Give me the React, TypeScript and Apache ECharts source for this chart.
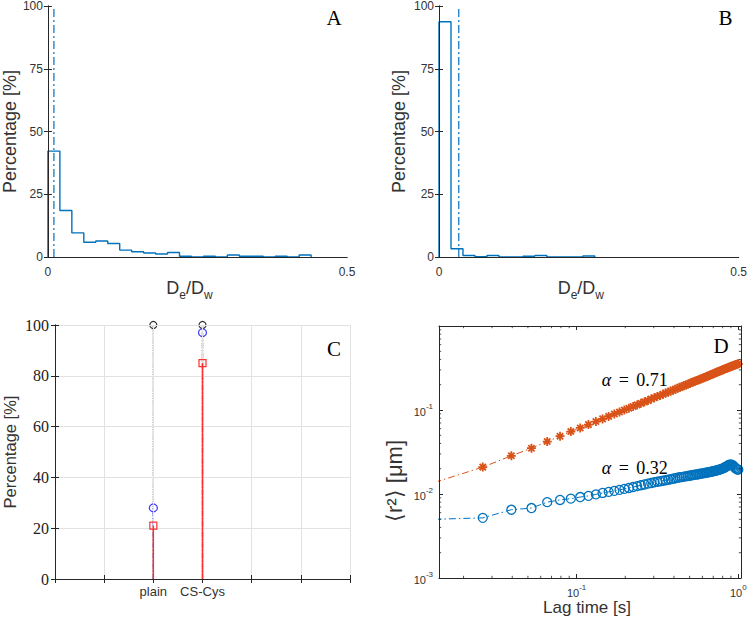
import React, { useEffect, useRef } from 'react';
import * as echarts from 'echarts';

// ---------- Data ----------
// Panels A and B: histograms (stairs) of De/Dw, bin width 0.02, percentages per bin
const HIST_BIN_WIDTH = 0.02;
const HIST_A_PERCENT = [42.2, 18.5, 9.6, 5.9, 6.4, 5.4, 2.75, 2.1, 1.6, 1.2, 1.8, 0.3, 0, 0.3, 0, 0.8, 0.3, 0.3, 0, 0.3, 0, 0.8];
const HIST_B_PERCENT = [93.7, 3.3, 0.6, 0.1, 0.6, 0, 0, 0.3, 0.6, 0, 0, 0, 0.4];
const HIST_A_MARKER = 0.01;
const HIST_B_MARKER = 0.033;
const HIST_X_RANGE = [0, 0.5];
const HIST_Y_RANGE = [0, 100];

// Panel C: stems
const C_GROUPS = ['plain', 'CS-Cys'];
const C_GROUP_X = [2, 3];
const C_X_RANGE = [0, 6];
const C_TOTAL = [100, 100];
const C_BLUE = [28, 97];
const C_RED = [21, 85];

// Panel D: MSD vs lag time
const D_LAG = [
  0.0132, 0.0263, 0.0395, 0.0526, 0.0658, 0.0790, 0.0921, 0.1053, 0.1184, 0.1316,
  0.1448, 0.1579, 0.1711, 0.1842, 0.1974, 0.2106, 0.2237, 0.2369, 0.2500, 0.2632,
  0.2764, 0.2895, 0.3027, 0.3158, 0.3290, 0.3422, 0.3553, 0.3685, 0.3816, 0.3948,
  0.4080, 0.4211, 0.4343, 0.4474, 0.4606, 0.4738, 0.4869, 0.5001, 0.5132, 0.5264,
  0.5396, 0.5527, 0.5659, 0.5790, 0.5922, 0.6054, 0.6185, 0.6317, 0.6448, 0.6580,
  0.6712, 0.6843, 0.6975, 0.7106, 0.7238, 0.7370, 0.7501, 0.7633, 0.7764, 0.7896,
  0.8028, 0.8159, 0.8291, 0.8422, 0.8554, 0.8686, 0.8817, 0.8949, 0.9080, 0.9212,
  0.9344, 0.9475, 0.9607, 0.9738, 0.9870, 1.0002,
];
const D_ORANGE = [
  0.0137, 0.0209, 0.0285, 0.0351, 0.0421, 0.0488, 0.0554, 0.0612, 0.0670, 0.0728,
  0.0784, 0.0839, 0.0894, 0.0947, 0.100, 0.105, 0.110, 0.115, 0.120, 0.125,
  0.130, 0.135, 0.140, 0.145, 0.149, 0.154, 0.159, 0.163, 0.168, 0.172,
  0.177, 0.181, 0.186, 0.190, 0.195, 0.199, 0.203, 0.207, 0.212, 0.216,
  0.220, 0.224, 0.228, 0.232, 0.236, 0.240, 0.244, 0.248, 0.252, 0.257,
  0.261, 0.265, 0.269, 0.274, 0.278, 0.282, 0.286, 0.290, 0.293, 0.297,
  0.301, 0.305, 0.309, 0.312, 0.316, 0.320, 0.324, 0.327, 0.331, 0.335,
  0.338, 0.342, 0.345, 0.349, 0.352, 0.355,
];
const D_BLUE = [
  0.0050, 0.0052, 0.0065, 0.0068, 0.0080, 0.0085, 0.0088, 0.0092, 0.0095, 0.0099,
  0.0103, 0.0106, 0.0109, 0.0112, 0.0115, 0.0118, 0.0121, 0.0124, 0.0127, 0.0130,
  0.0133, 0.0135, 0.0138, 0.0140, 0.0142, 0.0144, 0.0146, 0.0148, 0.0150, 0.0152,
  0.0154, 0.0156, 0.0158, 0.0159, 0.0161, 0.0162, 0.0164, 0.0165, 0.0167, 0.0168,
  0.0170, 0.0171, 0.0172, 0.0174, 0.0175, 0.0176, 0.0178, 0.0179, 0.0180, 0.0182,
  0.0183, 0.0185, 0.0186, 0.0188, 0.0189, 0.0191, 0.0193, 0.0195, 0.0197, 0.0199,
  0.0202, 0.0205, 0.0208, 0.0212, 0.0216, 0.0220, 0.0223, 0.0224, 0.0223, 0.0220,
  0.0215, 0.0209, 0.0203, 0.0199, 0.0196, 0.0195,
];
const D_ALPHA_LABELS = ['0.71', '0.32'];
const D_Y_NAME = '⟨r²⟩ [μm]';
const D_X_RANGE = [0.0141, 1.039];
const D_Y_RANGE = [0.001, 1];
const D_X_LABEL_EXP = [-1, 0];
const D_Y_LABEL_EXP = [-3, -2, -1];
const D_MINOR_X = [0.02, 0.03, 0.04, 0.05, 0.06, 0.07, 0.08, 0.09, 0.2, 0.3, 0.4, 0.5, 0.6, 0.7, 0.8, 0.9];
const D_MINOR_Y = [0.002, 0.003, 0.004, 0.005, 0.006, 0.007, 0.008, 0.009, 0.02, 0.03, 0.04, 0.05, 0.06, 0.07, 0.08, 0.09, 0.2, 0.3, 0.4, 0.5, 0.6, 0.7, 0.8, 0.9];

// ---------- Styles ----------
const SANS = '"Liberation Sans", Arial, Helvetica, sans-serif';
const SERIF = '"Liberation Serif", "Times New Roman", serif';
const AXIS = '#262626';
const TXT = '#333333';
const MBLUE = '#0072BD';
const MORANGE = '#D95319';
const DASHDOT = [7, 3, 1.5, 3];

function stairs(h: number[]) {
  const pts: number[][] = [[0, 0]];
  h.forEach((v, i) => pts.push([+(i * HIST_BIN_WIDTH).toFixed(4), v]));
  pts.push([+(h.length * HIST_BIN_WIDTH).toFixed(4), 0]);
  return pts;
}

const axisLineStyle = { show: true, lineStyle: { color: AXIS, width: 1 } };

function histAxes(grid: number, yNameGap: number) {
  const subRich = {
    d: { fontSize: 18, fontFamily: SANS, color: TXT, verticalAlign: 'bottom', padding: [0, 0, 4, 0] },
    s: { fontSize: 12, fontFamily: SANS, color: TXT, verticalAlign: 'bottom' },
  };
  const x = [
    {
      gridIndex: grid, type: 'value', min: HIST_X_RANGE[0], max: HIST_X_RANGE[1], interval: 0.5, position: 'bottom', z: 5,
      axisLine: axisLineStyle, axisTick: { show: false }, splitLine: { show: false },
      axisLabel: { fontSize: 12, fontFamily: SANS, color: TXT, margin: 9 },
      name: '{d|D}{s|e}{d|/D}{s|w}', nameLocation: 'middle', nameGap: 14,
      nameTextStyle: { rich: subRich, padding: [0, 16, 0, 0] },
    },
    {
      gridIndex: grid, type: 'value', min: HIST_X_RANGE[0], max: HIST_X_RANGE[1], interval: 0.5, position: 'top', z: 5,
      axisLine: axisLineStyle, axisTick: { show: false }, axisLabel: { show: false }, splitLine: { show: false },
    },
  ];
  const y = [
    {
      gridIndex: grid, type: 'value', min: HIST_Y_RANGE[0], max: HIST_Y_RANGE[1], interval: 25, position: 'left', z: 5,
      axisLine: axisLineStyle, axisTick: { inside: true, length: 4, lineStyle: { color: AXIS } }, splitLine: { show: false },
      axisLabel: { fontSize: 12, fontFamily: SANS, color: TXT, margin: 5 },
      name: 'Percentage [%]', nameLocation: 'middle', nameGap: yNameGap,
      nameTextStyle: { fontSize: 18, fontFamily: SANS, color: TXT },
    },
    {
      gridIndex: grid, type: 'value', min: HIST_Y_RANGE[0], max: HIST_Y_RANGE[1], interval: 25, position: 'right', z: 5,
      axisLine: axisLineStyle, axisTick: { inside: true, length: 4, lineStyle: { color: AXIS } }, splitLine: { show: false },
      axisLabel: { show: false },
    },
  ];
  return { x, y };
}

function logLabel(allowed: number[]) {
  return (v: number) => {
    const l = Math.log10(v);
    const e = Math.round(l);
    if (Math.abs(l - e) > 1e-6 || allowed.indexOf(e) < 0) return '';
    return `{b|10}{s|${e}}`;
  };
}
const logRich = {
  b: { fontSize: 11, fontFamily: SANS, color: TXT, verticalAlign: 'bottom', padding: [4, 0, 0, 0] },
  s: { fontSize: 8, fontFamily: SANS, color: TXT, verticalAlign: 'top' },
};

function buildOption() {
  const a = histAxes(0, 25);
  const b = histAxes(1, 31);

  const cGrid = { show: true, lineStyle: { color: '#e2e2e2', width: 1 } };
  const cX = [
    {
      gridIndex: 2, type: 'value', min: C_X_RANGE[0], max: C_X_RANGE[1], interval: 1, position: 'bottom', z: 5,
      axisLine: axisLineStyle, axisTick: { inside: true, length: 4, lineStyle: { color: AXIS } }, splitLine: cGrid,
      axisLabel: {
        fontSize: 13, fontFamily: SANS, color: TXT, margin: 6,
        formatter: (v: number) => { const i = C_GROUP_X.indexOf(v); return i >= 0 ? C_GROUPS[i] : ''; },
      },
    },
    {
      gridIndex: 2, type: 'value', min: C_X_RANGE[0], max: C_X_RANGE[1], interval: 1, position: 'top', z: 5,
      axisLine: axisLineStyle, axisTick: { inside: true, length: 4, lineStyle: { color: AXIS } }, splitLine: { show: false },
      axisLabel: { show: false },
    },
  ];
  const cY = [
    {
      gridIndex: 2, type: 'value', min: 0, max: 100, interval: 20, position: 'left', z: 5,
      axisLine: axisLineStyle, axisTick: { inside: true, length: 4, lineStyle: { color: AXIS } }, splitLine: cGrid,
      axisLabel: { fontSize: 16, fontFamily: SERIF, color: '#222', margin: 6 },
      name: 'Percentage [%]', nameLocation: 'middle', nameGap: 37,
      nameTextStyle: { fontSize: 16.5, fontFamily: SANS, color: TXT },
    },
    {
      gridIndex: 2, type: 'value', min: 0, max: 100, interval: 20, position: 'right', z: 5,
      axisLine: axisLineStyle, axisTick: { inside: true, length: 4, lineStyle: { color: AXIS } }, splitLine: { show: false },
      axisLabel: { show: false },
    },
  ];

  const dX = [
    {
      gridIndex: 3, type: 'log', min: D_X_RANGE[0], max: D_X_RANGE[1], position: 'bottom', z: 5,
      axisLine: axisLineStyle, axisTick: { inside: true, length: 4, lineStyle: { color: AXIS } }, splitLine: { show: false },
      axisLabel: { formatter: logLabel(D_X_LABEL_EXP), rich: logRich, margin: 5 },
      name: 'Lag time [s]', nameLocation: 'middle', nameGap: 19,
      nameTextStyle: { fontSize: 17, fontFamily: SANS, color: TXT, padding: [0, 6, 0, 0] },
    },
    {
      gridIndex: 3, type: 'log', min: D_X_RANGE[0], max: D_X_RANGE[1], position: 'top', z: 5,
      axisLine: axisLineStyle, axisTick: { inside: true, length: 4, lineStyle: { color: AXIS } }, splitLine: { show: false },
      axisLabel: { show: false },
    },
  ];
  const dY = [
    {
      gridIndex: 3, type: 'log', min: D_Y_RANGE[0], max: D_Y_RANGE[1], position: 'left', z: 5,
      axisLine: axisLineStyle, axisTick: { inside: true, length: 4, lineStyle: { color: AXIS } }, splitLine: { show: false },
      axisLabel: { formatter: logLabel(D_Y_LABEL_EXP), rich: logRich, margin: 6 },
    },
    {
      gridIndex: 3, type: 'log', min: D_Y_RANGE[0], max: D_Y_RANGE[1], position: 'right', z: 5,
      axisLine: axisLineStyle, axisTick: { inside: true, length: 4, lineStyle: { color: AXIS } }, splitLine: { show: false },
      axisLabel: { show: false },
    },
  ];

  const series: any[] = [];
  // Panel A & B histograms
  [[HIST_A_PERCENT, HIST_A_MARKER, 0], [HIST_B_PERCENT, HIST_B_MARKER, 2]].forEach(([h, m, ax]: any) => {
    series.push({
      type: 'line', xAxisIndex: ax, yAxisIndex: ax, data: stairs(h), step: 'end', symbol: 'none',
      lineStyle: { color: MBLUE, width: 1.4 }, z: 3,
    });
    series.push({
      type: 'line', xAxisIndex: ax, yAxisIndex: ax, data: [[m, HIST_Y_RANGE[0]], [m, HIST_Y_RANGE[1]]], symbol: 'none',
      lineStyle: { color: MBLUE, width: 1.2, type: [8, 3, 2, 3] }, z: 3,
    });
  });

  // Panel C stems
  const stemDefs = [
    { vals: C_TOTAL, color: '#333333', line: 'dotted', lw: 1.2, symbol: 'circle', size: 7, z: 3 },
    { vals: C_BLUE, color: '#3a3aff', line: [5, 2, 1.5, 2], lw: 1.3, symbol: 'circle', size: 8, z: 4 },
    { vals: C_RED, color: '#ff3030', line: 'solid', lw: 1.5, symbol: 'rect', size: 7, z: 5 },
  ];
  stemDefs.forEach((d) => {
    d.vals.forEach((v, i) => {
      series.push({
        type: 'line', xAxisIndex: 4, yAxisIndex: 4, z: d.z,
        data: [{ value: [C_GROUP_X[i], 0], symbol: 'none' }, { value: [C_GROUP_X[i], v] }],
        symbol: d.symbol, symbolSize: d.size,
        itemStyle: { color: 'rgba(0,0,0,0)', borderColor: d.color, borderWidth: 1.2 },
        lineStyle: { color: d.color, width: d.lw, type: d.line },
      });
    });
  });

  // Panel D
  series.push({
    type: 'line', xAxisIndex: 6, yAxisIndex: 6, z: 3,
    data: D_LAG.map((t, i) => [t, D_ORANGE[i]]),
    symbol: 'path://M5 0 L5 10 M0 5 L10 5 M1.5 1.5 L8.5 8.5 M1.5 8.5 L8.5 1.5', symbolSize: 9,
    showAllSymbol: true,
    itemStyle: { color: 'rgba(0,0,0,0)', borderColor: MORANGE, borderWidth: 1.8 },
    lineStyle: { color: MORANGE, width: 1, type: DASHDOT },
  });
  series.push({
    type: 'line', xAxisIndex: 6, yAxisIndex: 6, z: 3,
    data: D_LAG.map((t, i) => [t, D_BLUE[i]]),
    symbol: 'circle', symbolSize: 9, showAllSymbol: true,
    itemStyle: { color: 'rgba(0,0,0,0)', borderColor: MBLUE, borderWidth: 1.3 },
    lineStyle: { color: MBLUE, width: 1, type: DASHDOT },
  });
  const minorStyle = { stroke: AXIS, lineWidth: 0.8 };
  series.push({
    type: 'custom', xAxisIndex: 6, yAxisIndex: 6, z: 6, silent: true,
    data: D_MINOR_X.map((v) => [v, 0.01]),
    encode: { x: 0, y: 1 },
    renderItem: (params: any, api: any) => {
      const cs = params.coordSys;
      const x = api.coord([api.value(0), api.value(1)])[0];
      const b = cs.y + cs.height;
      return {
        type: 'group',
        children: [
          { type: 'line', shape: { x1: x, y1: b, x2: x, y2: b - 2.2 }, style: minorStyle },
          { type: 'line', shape: { x1: x, y1: cs.y, x2: x, y2: cs.y + 2.2 }, style: minorStyle },
        ],
      };
    },
  });
  series.push({
    type: 'custom', xAxisIndex: 6, yAxisIndex: 6, z: 6, silent: true,
    data: D_MINOR_Y.map((v) => [0.1, v]),
    encode: { x: 0, y: 1 },
    renderItem: (params: any, api: any) => {
      const cs = params.coordSys;
      const y = api.coord([api.value(0), api.value(1)])[1];
      const r = cs.x + cs.width;
      return {
        type: 'group',
        children: [
          { type: 'line', shape: { x1: cs.x, y1: y, x2: cs.x + 2.2, y2: y }, style: minorStyle },
          { type: 'line', shape: { x1: r, y1: y, x2: r - 2.2, y2: y }, style: minorStyle },
        ],
      };
    },
  });

  const letter = (t: string, x: number, y: number) => ({
    type: 'text', x, y, z: 10, silent: true,
    style: { text: t, fontSize: 21, fontFamily: SERIF, fill: '#000', align: 'center', verticalAlign: 'middle' },
  });
  const alphaRich = {
    a: { fontSize: 18, fontFamily: SERIF, fontStyle: 'italic', fill: '#000' },
    e: { fontSize: 18, fontFamily: SERIF, fill: '#000', padding: [0, 3, 0, 3] },
    n: { fontSize: 18, fontFamily: SERIF, fill: '#000' },
  };
  const alphaText = (val: string, x: number, y: number) => ({
    type: 'text', x, y, z: 10, silent: true,
    style: { text: `{a|α}{e| = }{n|${val}}`, rich: alphaRich, fontSize: 18, fontFamily: SERIF, fill: '#000', align: 'left', verticalAlign: 'middle' },
  });

  return {
    animation: false,
    backgroundColor: '#ffffff',
    grid: [
      { left: 43, top: 3, width: 304, height: 254 },
      { left: 439, top: 3, width: 302, height: 254 },
      { left: 49, top: 325, width: 301, height: 254 },
      { left: 439, top: 326, width: 302, height: 252 },
    ],
    xAxis: [...a.x, ...b.x, ...cX, ...dX],
    yAxis: [...a.y, ...b.y, ...cY, ...dY],
    series,
    graphic: [
      letter('A', 334, 18),
      letter('B', 725.5, 18),
      letter('C', 334, 349),
      letter('D', 721, 346),
      alphaText(D_ALPHA_LABELS[0], 601.7, 380),
      alphaText(D_ALPHA_LABELS[1], 601.7, 468),
      {
        type: 'group', x: 394, y: 481, rotation: Math.PI / 2, z: 10, silent: true,
        children: [
          {
            type: 'text', x: 0, y: 0,
            style: { text: D_Y_NAME, fontSize: 22, fontFamily: SANS, fill: TXT, align: 'center', verticalAlign: 'middle' },
          },
        ],
      },
    ],
  };
}

export default function App() {
  const ref = useRef<HTMLDivElement>(null);
  useEffect(() => {
    if (!ref.current) return;
    const chart = echarts.init(ref.current, undefined, { renderer: 'svg' });
    chart.setOption(buildOption() as any);
    return () => chart.dispose();
  }, []);
  return <div ref={ref} style={{ position: 'absolute', left: 0, top: 0, width: 750, height: 617 }} />;
}
